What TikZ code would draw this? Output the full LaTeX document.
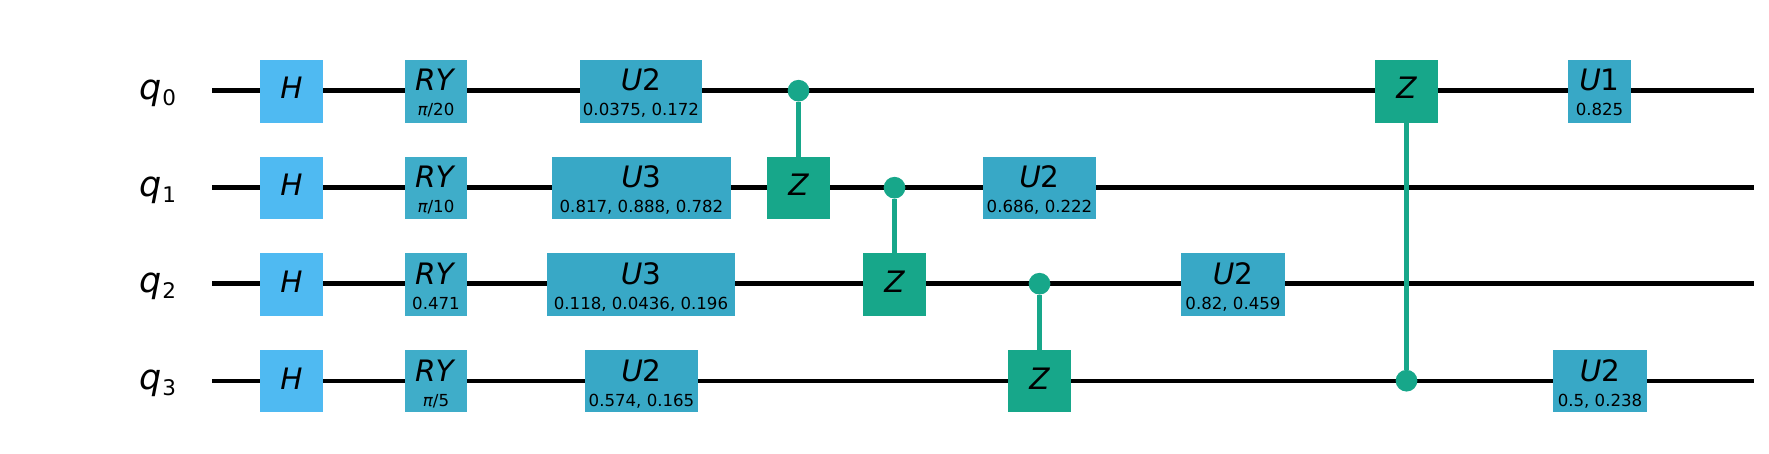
\documentclass[tikz,border=0pt]{standalone}
\usepackage{fontspec}
\setmainfont{DejaVu Sans}
\definecolor{hblue}{HTML}{4FBAF2}
\definecolor{ublue}{HTML}{38A8C6}
\definecolor{rblue}{HTML}{3FADC9}
\definecolor{cz}{HTML}{17A78A}
\newcommand{\qgate}[8]{% name, style, xc, width, ytop, height, label, param
  \node[#2,minimum width=#4pt,minimum height=#6pt,anchor=north] (#1) at (#3,#5) {};
  \node[glabel] (#1l) at (#3,#5+31) {#7};
  \node[gparam] (#1p) at (#3,#5+56) {#8};
}
\newcommand{\sgate}[6]{% name, style, xc, ytop, height, label
  \node[#2,minimum width=63pt,minimum height=#5pt,anchor=north] (#1) at (#3,#4) {};
  \node[glabel] (#1l) at (#3,#4+39) {#6};
}
\begin{document}
\begin{tikzpicture}[x=1pt,y=-1pt,
  wire/.style={line width=4.4pt,black},
  ctrl/.style={line width=4.2pt,cz},
  gatebox/.style={rectangle,inner sep=0pt,outer sep=0pt},
  hgate/.style={gatebox,fill=hblue},
  zgate/.style={gatebox,fill=cz},
  ugate/.style={gatebox,fill=ublue},
  rgate/.style={gatebox,fill=rblue},
  dot/.style={circle,fill=cz,inner sep=0pt,outer sep=0pt,minimum size=21.7pt},
  glabel/.style={font=\fontsize{29.5}{29.5}\selectfont,anchor=base,inner sep=0pt,text=black},
  gparam/.style={font=\fontsize{16.6}{16.6}\selectfont,anchor=base,inner sep=0pt,text=black},
  qlabel/.style={font=\fontsize{35}{35}\selectfont,anchor=base,inner sep=0pt,text=black}]
\useasboundingbox (0,0) rectangle (1769,454);
\fill[white] (0,0) rectangle (1769,454);
\foreach \n/\y in {0/90.7,1/187.7,2/283.7,3/380.7}{
  \coordinate (s\n) at (212,\y);
  \coordinate (e\n) at (1754,\y);
  \draw[wire] (s\n) -- (e\n);
  \node[qlabel] (q\n) at (157.5,\y+9) {\itshape q\kern1pt\raisebox{-5.5pt}{\fontsize{21.5}{21.5}\selectfont\upshape\n}};
}
% H
\sgate{h0}{hgate}{291.5}{60}{63}{\itshape H}
\sgate{h1}{hgate}{291.5}{157}{62}{\itshape H}
\sgate{h2}{hgate}{291.5}{253}{63}{\itshape H}
\sgate{h3}{hgate}{291.5}{350}{62}{\itshape H}
% RY
\qgate{r0}{rgate}{436}{62}{60}{63}{\itshape RY\kern3pt}{{\itshape π}/20}
\qgate{r1}{rgate}{436}{62}{157}{62}{\itshape RY\kern3pt}{{\itshape π}/10}
\qgate{r2}{rgate}{436}{62}{253}{63}{\itshape RY\kern3pt}{0.471}
\qgate{r3}{rgate}{436}{62}{350}{62}{\itshape RY\kern3pt}{{\itshape π}/5}
% first U column
\qgate{ua}{ugate}{641}{122}{60}{63}{{\itshape U}2}{0.0375, 0.172}
\qgate{ub}{ugate}{641.5}{179}{157}{62}{{\itshape U}3}{0.817, 0.888, 0.782}
\qgate{uc}{ugate}{641}{188}{253}{63}{{\itshape U}3}{0.118, 0.0436, 0.196}
\qgate{ud}{ugate}{641.5}{113}{350}{62}{{\itshape U}2}{0.574, 0.165}
% CZ gates
\node[dot] (d0) at (798.5,90.7) {};
\sgate{z1}{zgate}{798.5}{157}{62}{\itshape Z}
\node[dot] (d1) at (894.5,187.7) {};
\sgate{z2}{zgate}{894.5}{253}{63}{\itshape Z}
\node[dot] (d2) at (1039.5,283.7) {};
\sgate{z3}{zgate}{1039.5}{350}{62}{\itshape Z}
\node[dot] (d3) at (1406.5,380.7) {};
\sgate{z0}{zgate}{1406.5}{60}{63}{\itshape Z}
\draw[ctrl] (d0) -- (z1);
\draw[ctrl] (d1) -- (z2);
\draw[ctrl] (d2) -- (z3);
\draw[ctrl] (d3) -- (z0);
% later U gates
\qgate{ue}{ugate}{1039.5}{113}{157}{62}{{\itshape U}2}{0.686, 0.222}
\qgate{uf}{ugate}{1233}{104}{253}{63}{{\itshape U}2}{0.82, 0.459}
\qgate{ug}{ugate}{1599.5}{63}{60}{63}{{\itshape U}1}{0.825}
\qgate{uh}{ugate}{1600}{94}{350}{62}{{\itshape U}2}{0.5, 0.238}
\end{tikzpicture}
\end{document}
